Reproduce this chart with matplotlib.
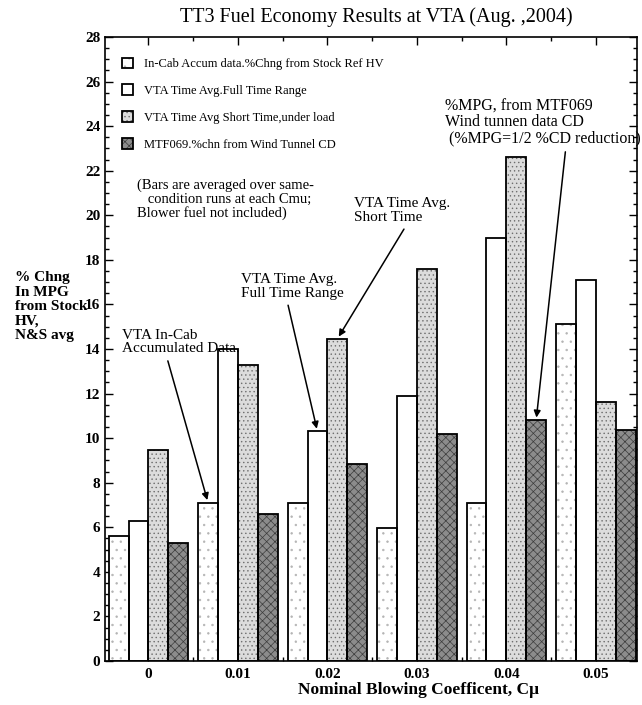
import numpy as np
import matplotlib
matplotlib.use("Agg")
import matplotlib.pyplot as plt
from matplotlib.ticker import MultipleLocator, FixedLocator

plt.rcParams['font.family'] = ['Liberation Serif', 'DejaVu Serif']
plt.rcParams['hatch.linewidth'] = 0.5

# data
cmu_labels = ['0', '0.01', '0.02', '0.03', '0.04', '0.05']
incab = [5.6, 7.1, 7.1, 5.95, 7.1, 15.1]
full_range = [6.3, 14.0, 10.3, 11.9, 19.0, 17.1]
short_time = [9.45, 13.3, 14.45, 17.6, 22.6, 11.6]
wind_tunnel = [5.3, 6.6, 8.85, 10.2, 10.8, 10.35]

series = [incab, full_range, short_time, wind_tunnel]
names = ['In-Cab Accum data.%Chng from Stock Ref HV',
         'VTA Time Avg.Full Time Range',
         'VTA Time Avg Short Time,under load',
         'MTF069.%chn from Wind Tunnel CD']
faces = ['white', 'white', '#dcdcdc', '#8c8c8c']
hatch_cols = ['#b4b4b4', 'white', '#6e6e6e', '#3c3c3c']
hatches = ['..', None, '....', 'xxxx']

fig = plt.figure(figsize=(6.42, 7.05), dpi=100)
ax = fig.add_axes([105/642, 44/705, 532/642, 624/705])

x = np.arange(len(cmu_labels))
w = 0.222
offsets = (np.arange(4) - 1.5) * w
handles = []
for s, vals in enumerate(series):
    hb = ax.bar(x + offsets[s], vals, w, color=faces[s], edgecolor=hatch_cols[s],
                hatch=hatches[s], linewidth=0, zorder=2)
    ob = ax.bar(x + offsets[s], vals, w, facecolor='none', edgecolor='black',
                linewidth=1.3, zorder=3)
    handles.append((hb, ob))

ax.set_xlim(-0.485, 5.46)
ax.set_ylim(0, 28)
ax.yaxis.set_major_locator(MultipleLocator(2))
ax.yaxis.set_minor_locator(MultipleLocator(0.5))
ax.set_xticks(x)
ax.set_xticklabels(cmu_labels)
ax.xaxis.set_minor_locator(FixedLocator(x[:-1] + 0.5))
ax.tick_params(which='both', direction='in', top=True, right=True,
               labelsize=11, width=1)
ax.tick_params(which='major', length=6)
ax.tick_params(which='minor', length=3)
ax.tick_params(axis='x', pad=5)
for lab in ax.get_xticklabels() + ax.get_yticklabels():
    lab.set_fontweight('bold')
for sp in ax.spines.values():
    sp.set_linewidth(1.2)

leg = ax.legend(handles, names, loc='upper left', bbox_to_anchor=(0.01, 0.985),
                frameon=False, fontsize=9, handlelength=0.9, handleheight=0.9,
                labelspacing=1.15, handletextpad=0.9)

ax.text(-0.13, 21.65, '(Bars are averaged over same-\n   condition runs at each Cmu;\nBlower fuel not included)',
        fontsize=10.5, va='top', ha='left', linespacing=1.05)

arrow = dict(arrowstyle='-|>', color='black', lw=1.1, mutation_scale=10)
ax.annotate('VTA In-Cab\nAccumulated Data.', xy=(1 + offsets[0], incab[1]),
            xytext=(-0.3, 14.9), fontsize=11, va='top', ha='left',
            linespacing=1.05, arrowprops=dict(arrow, relpos=(0.38, 0)))
ax.annotate('VTA Time Avg.\nFull Time Range', xy=(2 + offsets[1], full_range[2]),
            xytext=(1.03, 17.4), fontsize=11, va='top', ha='left',
            linespacing=1.05, arrowprops=dict(arrow, relpos=(0.45, 0)))
ax.annotate('VTA Time Avg.\nShort Time', xy=(2 + offsets[2], short_time[2]),
            xytext=(2.3, 20.8), fontsize=11, va='top', ha='left',
            linespacing=1.05, arrowprops=dict(arrow, relpos=(0.55, 0)))
ax.annotate('%MPG, from MTF069\nWind tunnen data CD\n (%MPG=1/2 %CD reduction)',
            xy=(4 + offsets[3], wind_tunnel[4]),
            xytext=(3.31, 25.25), fontsize=11.5, va='top', ha='left',
            linespacing=1.0, arrowprops=dict(arrow, relpos=(0.62, 0)))

fig.text(376/642, 1 - 17/705, 'TT3 Fuel Economy Results at VTA (Aug. ,2004)',
         fontsize=14.5, ha='center', va='center')
fig.text(418/642, 1 - 690/705, 'Nominal Blowing Coefficent, C\u03bc',
         fontsize=12.5, fontweight='bold', ha='center', va='center')
fig.text(15/642, 1 - 271/705, '% Chng\nIn MPG\nfrom Stock\nHV,\nN&S avg',
         fontsize=11, fontweight='bold', ha='left', va='top', linespacing=1.15)

fig.savefig('out.png', dpi=100)
